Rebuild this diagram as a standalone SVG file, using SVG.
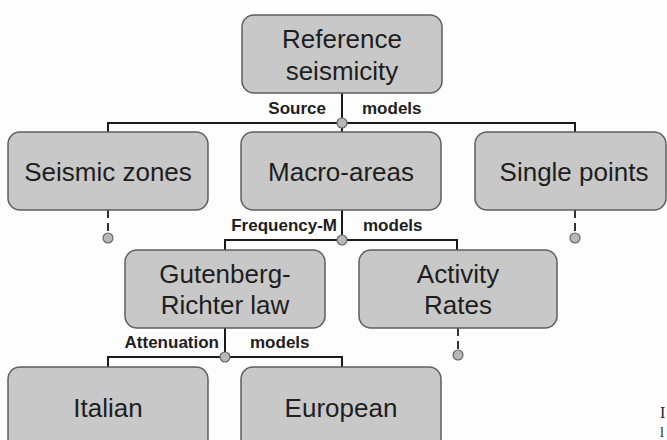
<svg xmlns="http://www.w3.org/2000/svg" width="667" height="440" viewBox="0 0 667 440">
<style>
.node rect{fill:#c8c8c8;stroke:#5e5e5e;stroke-width:1.5}
.nt{font-family:"Liberation Sans",Arial,sans-serif;font-size:26px;fill:#1e1e1e;text-anchor:middle}
.lb{font-family:"Liberation Sans",Arial,sans-serif;font-size:17px;font-weight:bold;fill:#1e1e1e}
.ln{stroke:#1a1a1a;stroke-width:2;fill:none}
.dash{stroke:#333;stroke-width:2;stroke-dasharray:8,5;fill:none}
.dot{fill:#b8b8b8;stroke:#666;stroke-width:1.2}
</style>
<rect width="667" height="440" fill="#fdfdfd"/>
<g id="connectors">
<path class="ln" d="M342,93 V123 M108,132 V123 H575 V132 M342,123 V132"/>
<path class="ln" d="M342,210 V240 M225,250 V240 H457 V250"/>
<path class="ln" d="M225,328 V357 M108,367 V357 H342 V367"/>
<path class="dash" d="M108,210 V234"/>
<path class="dash" d="M575,210 V234"/>
<path class="dash" d="M458,328 V351"/>
<circle class="dot" cx="342" cy="123" r="5"/>
<circle class="dot" cx="342" cy="240" r="5"/>
<circle class="dot" cx="225" cy="357" r="5"/>
<circle class="dot" cx="108" cy="238" r="5"/>
<circle class="dot" cx="575" cy="238" r="5"/>
<circle class="dot" cx="458" cy="355" r="5"/>
<text class="lb" x="326" y="114" text-anchor="end">Source</text>
<text class="lb" x="362" y="114">models</text>
<text class="lb" x="337" y="231" text-anchor="end">Frequency-M</text>
<text class="lb" x="363" y="231">models</text>
<text class="lb" x="219" y="348" text-anchor="end">Attenuation</text>
<text class="lb" x="250" y="348">models</text>
</g>
<g id="reference" class="node"><rect x="242" y="15" width="200" height="78" rx="12"/><text class="nt" x="342" y="48" font-size="28">Reference</text><text class="nt" x="342" y="80" font-size="28">seismicity</text></g>
<g id="seismic-zones" class="node"><rect x="8" y="132" width="200" height="78" rx="12"/><text class="nt" x="108" y="181">Seismic zones</text></g>
<g id="macro-areas" class="node"><rect x="241" y="132" width="200" height="78" rx="12"/><text class="nt" x="341" y="181">Macro-areas</text></g>
<g id="single-points" class="node"><rect x="475" y="132" width="191" height="78" rx="12"/><text class="nt" x="574" y="181">Single points</text></g>
<g id="gutenberg" class="node"><rect x="125" y="250" width="200" height="78" rx="12"/><text class="nt" x="225" y="283">Gutenberg-</text><text class="nt" x="225" y="314">Richter law</text></g>
<g id="activity" class="node"><rect x="359" y="250" width="198" height="78" rx="12"/><text class="nt" x="458" y="283">Activity</text><text class="nt" x="458" y="314">Rates</text></g>
<g id="italian" class="node"><rect x="8" y="367" width="200" height="90" rx="12"/><text class="nt" x="108" y="417">Italian</text></g>
<g id="european" class="node"><rect x="241" y="367" width="200" height="90" rx="12"/><text class="nt" x="341" y="417">European</text></g>
<text x="660" y="418" font-family="Liberation Serif,serif" font-size="16" fill="#222">I</text>
<text x="660" y="437" font-family="Liberation Serif,serif" font-size="14" fill="#222">l</text>
</svg>
